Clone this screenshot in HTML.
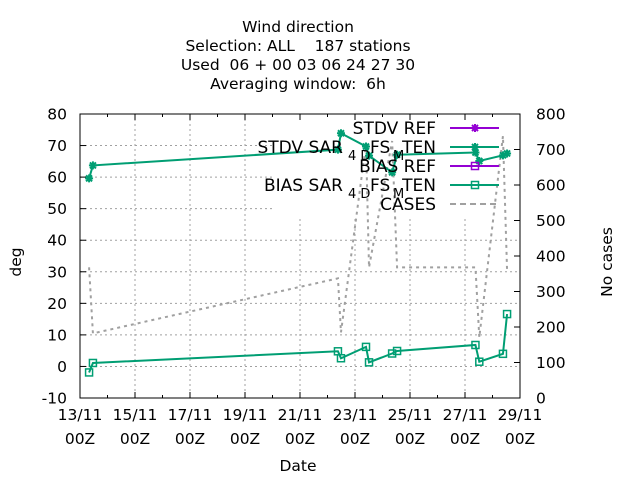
<!DOCTYPE html>
<html><head><meta charset="utf-8"><style>
body{margin:0;background:#fff}
svg{display:block;font-family:"DejaVu Sans","Liberation Sans",sans-serif}
text{white-space:pre}
</style></head><body>
<svg id="chart" width="640" height="480" viewBox="0 0 640 480" xml:space="preserve">
<g id="titles" font-size="15.5" text-anchor="middle" fill="#000">
<text x="298" y="32">Wind direction</text>
<text x="298" y="51">Selection: ALL    187 stations</text>
<text x="298" y="70">Used  06 + 00 03 06 24 27 30</text>
<text x="298" y="89">Averaging window:  6h</text>
</g>
<g id="grid"></g>
<rect x="272" y="116" width="246" height="100" fill="#fff"/>
<g id="axes"></g>
<g id="series"></g>
<g id="legend"></g>
<text x="298" y="471" font-size="15.5" text-anchor="middle">Date</text>
<text x="21" y="262" font-size="15.5" text-anchor="middle" transform="rotate(-90 21 262)">deg</text>
<text x="612" y="262" font-size="15.5" text-anchor="middle" transform="rotate(-90 612 262)">No cases</text>
</svg>
<script>
const times=[0.33,0.47,9.38,9.49,10.4,10.51,11.35,11.53,14.38,14.52,15.38,15.53];
const stdvTen=[59.6,63.7,68.7,73.9,69.7,66.8,61.5,67.1,67.8,65.1,66.9,67.5];
const biasTen=[-1.9,1.1,4.8,2.6,6.2,1.3,4.1,4.9,6.8,1.5,4.0,16.6];
const cases=[368,182,337,185,716,368,724,368,368,171,738,359];
const yTicks=[-10,0,10,20,30,40,50,60,70,80];
const y2Ticks=[0,100,200,300,400,500,600,700,800];
const xTickDays=[0,2,4,6,8,10,12,14,16];
const xTickLabels=["13/11","15/11","17/11","19/11","21/11","23/11","25/11","27/11","29/11"];
const L=80,R=520,T=114,B=398;
const NS="http://www.w3.org/2000/svg";
function X(d){return L+(R-L)*d/16;}
function Y(v){return B-(B-T)*(v+10)/90;}
function Y2(v){return B-(B-T)*v/800;}
function mk(tag,attrs,parent){const e=document.createElementNS(NS,tag);for(const k in attrs)e.setAttribute(k,attrs[k]);parent.appendChild(e);return e;}
const grid=document.getElementById('grid'),axes=document.getElementById('axes'),series=document.getElementById('series'),legend=document.getElementById('legend');
yTicks.forEach(v=>{const y=Y(v);
 if(v>-10&&v<80){const g=mk('line',{x1:L,x2:R,y1:y,y2:y,stroke:'#a0a0a0','stroke-dasharray':'2,3'},grid);
 
 }
 mk('line',{x1:L,x2:L+6,y1:y,y2:y,stroke:'#000'},axes);
 const t=mk('text',{x:L-13,y:y+5.5,'font-size':15.5,'text-anchor':'end'},axes);t.textContent=v;
 
 });
y2Ticks.forEach(v=>{const y=Y2(v);
 mk('line',{x1:R-6,x2:R,y1:y,y2:y,stroke:'#000'},axes);
 const t=mk('text',{x:R+16,y:y+5.5,'font-size':15.5,'text-anchor':'start'},axes);t.textContent=v;
 
 });
for(let d=0;d<=16;d++){const x=X(d);const len=d%2==0?6:3;
 mk('line',{x1:x,x2:x,y1:B,y2:B-len,stroke:'#000'},axes);
 mk('line',{x1:x,x2:x,y1:T,y2:T+len,stroke:'#000'},axes);}
xTickDays.forEach((d,i)=>{const x=X(d);
 if(d>0&&d<16){const g=mk('line',{x1:x,x2:x,y1:T,y2:B,stroke:'#a0a0a0','stroke-dasharray':'2,3'},grid);
 
 }
 const t=mk('text',{x:x,y:420,'font-size':15.5,'text-anchor':'middle'},axes);t.textContent=xTickLabels[i];
 
 
 const t2=mk('text',{x:x,y:444,'font-size':15.5,'text-anchor':'middle'},axes);t2.textContent="00Z";
 
 });
const fr=mk('rect',{x:L,y:T,width:R-L,height:B-T,fill:'none',stroke:'#000'},axes);


const G='#009e73',P='#9400d3';
function pts(arr,fy){return arr.map((v,i)=>X(times[i])+','+fy(v)).join(' ');}
const cl=mk('polyline',{points:pts(cases,Y2),fill:'none',stroke:'#a0a0a0','stroke-width':2,'stroke-dasharray':'3,4'},series);


function star(x,y,c,p){const s='M'+(x-4)+','+y+'h8M'+x+','+(y-4)+'v8M'+(x-3)+','+(y-3)+'l6,6M'+(x-3)+','+(y+3)+'l6,-6';
 const e=mk('path',{d:s,stroke:c,'stroke-width':2},p);return e;}
function sq(x,y,c,p){return mk('rect',{x:x-3.5,y:y-3.5,width:7,height:7,fill:'none',stroke:c,'stroke-width':1.5},p);}
const sl=mk('polyline',{points:pts(stdvTen,Y),fill:'none',stroke:G,'stroke-width':2},series);


stdvTen.forEach((v,i)=>{const m=star(X(times[i]),Y(v),G,series);
 
 });
const bl=mk('polyline',{points:pts(biasTen,Y),fill:'none',stroke:G,'stroke-width':2},series);


biasTen.forEach((v,i)=>{const m=sq(X(times[i]),Y(v),G,series);
 
 });
const rows=[{y:128,c:P,m:'star',lab:'STDV REF',lx:436},{y:147,c:G,m:'star',lab:'STDV SAR',lx:343,sub:true},{y:166,c:P,m:'sq',lab:'BIAS REF',lx:436},{y:185,c:G,m:'sq',lab:'BIAS SAR',lx:343,sub:true},{y:204,c:'#a0a0a0',m:'none',lab:'CASES',lx:436}];
rows.forEach(r=>{
 const g=mk('g',{},legend);
 
 
 if(r.m=='none')mk('line',{x1:450,x2:499,y1:r.y,y2:r.y,stroke:r.c,'stroke-width':2,'stroke-dasharray':'6,4'},g);
 else{mk('line',{x1:450,x2:499,y1:r.y,y2:r.y,stroke:r.c,'stroke-width':2},g);
 if(r.m=='star')star(475,r.y,r.c,g);else sq(475,r.y,r.c,g);}
 const t=mk('text',{x:r.lx,y:r.y+6,'font-size':17,'text-anchor':'end'},g);t.textContent=r.lab;
 if(r.sub){const a=mk('text',{x:348,y:r.y+13,'font-size':13},g);a.textContent='4 D';
  const b=mk('text',{x:370,y:r.y+6,'font-size':17},g);b.textContent='FS';
  const c=mk('text',{x:393,y:r.y+13,'font-size':13},g);c.textContent='M';
  const d=mk('text',{x:436,y:r.y+6,'font-size':17,'text-anchor':'end'},g);d.textContent='TEN';}
});
</script>
</body></html>
